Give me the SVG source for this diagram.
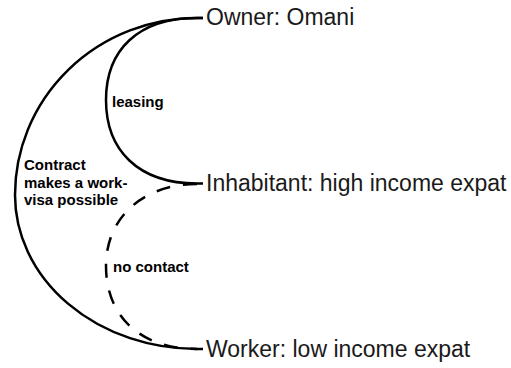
<svg xmlns="http://www.w3.org/2000/svg" width="511" height="368" viewBox="0 0 511 368">
  <style>
    .node { font-family: "Liberation Sans", Arial, sans-serif; font-size: 23px; fill: #1a1a1a; }
    .label { font-family: "Liberation Sans", Arial, sans-serif; font-size: 15px; font-weight: bold; fill: #000; }
    .link { fill: none; stroke: #000; stroke-width: 2.5; stroke-linecap: butt; }
    .dashed { stroke-dasharray: 14 13; }
  </style>
  <rect width="511" height="368" fill="#fff"/>

  <g id="connectors">
    <!-- Owner to Worker: the employment contract (outer arc) -->
    <path id="contract" class="link" d="M203,18 H197 A182,177 0 0 0 15,195 A182,154 0 0 0 197,349 H203"/>
    <!-- Owner to Inhabitant: leasing (inner arc) -->
    <path id="leasing" class="link" d="M203,18 H197 C138,18 106,50 106,100 C106,150 138,183.5 197,183.5 H203"/>
    <!-- Inhabitant to Worker: no contact (dashed arc) -->
    <path id="no-contact" class="link dashed" d="M197,184 C145,184 106,216 106,266 C106,316 140,349 197,349"/>
  </g>

  <g id="edge-labels">
    <text class="label" x="112" y="107">leasing</text>
    <text class="label" x="24" y="170">Contract</text>
    <text class="label" x="24" y="188">makes a work-</text>
    <text class="label" x="24" y="205">visa possible</text>
    <text class="label" x="113" y="272">no contact</text>
  </g>

  <g id="owner">
    <text class="node" x="206" y="25">Owner: Omani</text>
  </g>
  <g id="inhabitant">
    <text class="node" x="206" y="191">Inhabitant: high income expat</text>
  </g>
  <g id="worker">
    <text class="node" x="206" y="357">Worker: low income expat</text>
  </g>
</svg>
